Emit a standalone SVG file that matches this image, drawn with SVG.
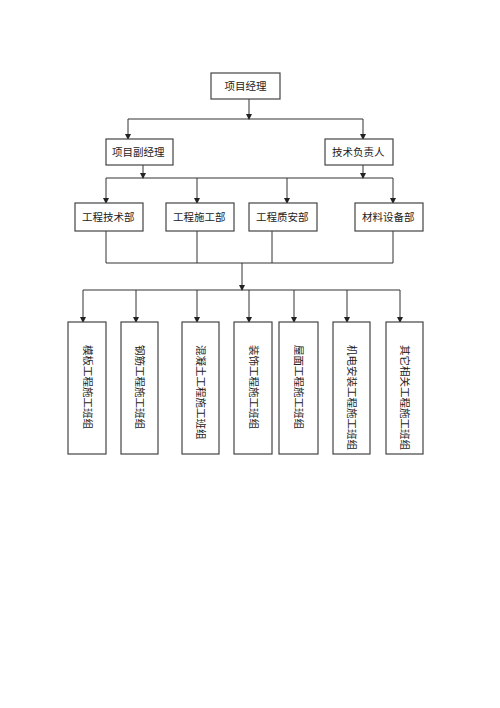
<svg xmlns="http://www.w3.org/2000/svg" width="500" height="708" viewBox="0 0 500 708">
<defs>
<marker id="ah" markerWidth="6" markerHeight="6" refX="5" refY="3" orient="auto" markerUnits="userSpaceOnUse">
<path d="M0,0 L6,3 L0,6 Z" fill="#222"/>
</marker>
<style>
.box{fill:#fff;stroke:#444;stroke-width:1.2}
.ln{fill:none;stroke:#333;stroke-width:1}
.ar{fill:none;stroke:#333;stroke-width:1;marker-end:url(#ah)}
.t{font-family:"Liberation Serif","Noto Sans CJK SC",serif;font-size:10.5px;fill:#222}
.v{font-family:"Liberation Serif","Noto Sans CJK SC",serif;font-size:10.5px;fill:#222;dominant-baseline:central}
</style>
</defs>
<rect width="500" height="708" fill="#fff"/>
<g id="connectors">
<path class="ar" d="M249,99 V119"/>
<path class="ln" d="M128,119 H363"/>
<path class="ar" d="M128,119 V139"/>
<path class="ar" d="M363,119 V139"/>
<path class="ar" d="M143,165 V178"/>
<path class="ar" d="M363,165 V178"/>
<path class="ln" d="M106,178 H393"/>
<path class="ar" d="M106,178 V203"/>
<path class="ar" d="M197,178 V203"/>
<path class="ar" d="M287,178 V203"/>
<path class="ar" d="M393,178 V203"/>
<path class="ln" d="M106,231 V263 M197,231 V263 M272,231 V263 M393,231 V263 M106,263 H393"/>
<path class="ar" d="M242,263 V290"/>
<path class="ln" d="M83,290 H400"/>
<path class="ar" d="M83,290 V322"/>
<path class="ar" d="M136,290 V322"/>
<path class="ar" d="M197,290 V322"/>
<path class="ar" d="M249,290 V322"/>
<path class="ar" d="M294,290 V322"/>
<path class="ar" d="M347,290 V322"/>
<path class="ar" d="M400,290 V322"/>
</g>
<g id="n_pm"><rect class="box" x="211" y="73" width="69" height="26"/><text class="t" x="245.5" y="90" text-anchor="middle">项目经理</text></g>
<g id="n_dpm"><rect class="box" x="106" y="139" width="67" height="26"/><text class="t" x="112" y="156">项目副经理</text></g>
<g id="n_tech"><rect class="box" x="325" y="139" width="68" height="26"/><text class="t" x="332" y="156">技术负责人</text></g>
<g id="n_d1"><rect class="box" x="75" y="203" width="68" height="28"/><text class="t" x="82" y="221">工程技术部</text></g>
<g id="n_d2"><rect class="box" x="166" y="203" width="68" height="28"/><text class="t" x="173" y="221">工程施工部</text></g>
<g id="n_d3"><rect class="box" x="249" y="203" width="68" height="28"/><text class="t" x="256" y="221">工程质安部</text></g>
<g id="n_d4"><rect class="box" x="355" y="203" width="68" height="28"/><text class="t" x="362" y="221">材料设备部</text></g>
<g id="n_g1"><rect class="box" x="68" y="322" width="38" height="132"/><text class="v" transform="translate(87,345) rotate(90)">模板工程施工班组</text></g>
<g id="n_g2"><rect class="box" x="121" y="322" width="37" height="132"/><text class="v" transform="translate(139.5,345) rotate(90)">钢筋工程施工班组</text></g>
<g id="n_g3"><rect class="box" x="182" y="322" width="37" height="132"/><text class="v" transform="translate(200.5,345) rotate(90)">混凝土工程施工班组</text></g>
<g id="n_g4"><rect class="box" x="234" y="322" width="38" height="132"/><text class="v" transform="translate(253,345) rotate(90)">装饰工程施工班组</text></g>
<g id="n_g5"><rect class="box" x="279" y="322" width="39" height="132"/><text class="v" transform="translate(298.5,345) rotate(90)">屋面工程施工班组</text></g>
<g id="n_g6"><rect class="box" x="333" y="322" width="37" height="132"/><text class="v" transform="translate(351.5,345) rotate(90)">机电安装工程施工班组</text></g>
<g id="n_g7"><rect class="box" x="386" y="322" width="37" height="132"/><text class="v" transform="translate(404.5,345) rotate(90)">其它相关工程施工班组</text></g>
</svg>
